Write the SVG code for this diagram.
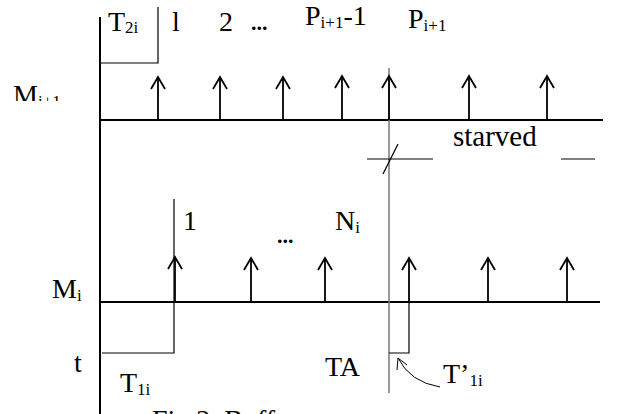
<svg xmlns="http://www.w3.org/2000/svg" width="617" height="414" viewBox="0 0 617 414">
<style>
text{font-family:"Liberation Serif","Times New Roman",serif;font-size:28px;fill:#000}
.sub{font-size:17px}
.ax{stroke:#000;stroke-width:2;fill:none}
.thin{stroke:#000;stroke-width:1.2;fill:none}
.gray{stroke:#777;stroke-width:1.5;fill:none}
.arr{stroke:#000;stroke-width:1.8;fill:none;marker-end:url(#v)}
</style>
<defs>
<marker id="v" markerUnits="userSpaceOnUse" viewBox="-14 -9 16 18" markerWidth="16" markerHeight="18" refX="0" refY="0" orient="auto" overflow="visible">
<path d="M -12 -7 L 0 0 L -12 7" stroke="#000" stroke-width="1.8" fill="none"/>
</marker>
<clipPath id="cm"><rect x="0" y="0" width="90" height="101"/></clipPath>
</defs>
<rect width="617" height="414" fill="#fff"/>
<g id="axes">
<line class="ax" x1="100" y1="17" x2="100" y2="414"/>
<line class="ax" x1="100" y1="120" x2="603" y2="120"/>
<line class="ax" x1="100" y1="302" x2="600" y2="302"/>
<line class="gray" x1="389" y1="68" x2="389" y2="393"/>
</g>
<g id="boxes">
<polyline class="thin" points="100,63 158,63 158,7"/>
<polyline class="thin" points="102,353 174,353 174,199"/>
<polyline class="thin" points="389,353 409,353 409,302"/>
<line class="thin" x1="367" y1="159" x2="433" y2="159"/>
<line class="thin" x1="561" y1="159" x2="595" y2="159"/>
<line class="thin" x1="383" y1="174" x2="398" y2="144"/>
</g>
<g id="connectors">
<line class="arr" x1="158" y1="120" x2="158" y2="77"/>
<line class="arr" x1="220" y1="120" x2="220" y2="77"/>
<line class="arr" x1="283" y1="120" x2="283" y2="77"/>
<line class="arr" x1="342" y1="120" x2="342" y2="76"/>
<line class="arr" x1="389" y1="120" x2="389" y2="76"/>
<line class="arr" x1="469" y1="120" x2="469" y2="76"/>
<line class="arr" x1="547" y1="120" x2="547" y2="76"/>
<line class="arr" x1="175" y1="302" x2="175" y2="257"/>
<line class="arr" x1="251" y1="302" x2="251" y2="258"/>
<line class="arr" x1="325" y1="302" x2="325" y2="258"/>
<line class="arr" x1="409" y1="302" x2="409" y2="258"/>
<line class="arr" x1="488" y1="302" x2="488" y2="258"/>
<line class="arr" x1="567" y1="302" x2="567" y2="258"/>
<path d="M 440 387 Q 410 382 398 358" stroke="#000" stroke-width="1" fill="none"/>
<path d="M 397 370 L 398 358 L 407 365" stroke="#000" stroke-width="1" fill="none"/>
</g>
<g id="labels">
<text x="108" y="31">T<tspan class="sub" dy="2">2i</tspan></text>
<text x="172" y="31">l</text>
<text x="219" y="31">2</text>
<text x="251" y="30" style="font-size:22px;font-weight:bold">...</text>
<text x="305" y="25">P<tspan class="sub" dy="3">i+1</tspan><tspan dy="-3">-1</tspan></text>
<text x="408" y="28">P<tspan class="sub" dy="3">i+1</tspan></text>
<text x="13" y="104" clip-path="url(#cm)">M<tspan class="sub" dy="3">i+1</tspan></text>
<text x="453" y="146" style="font-size:29px">starved</text>
<text x="183" y="230">1</text>
<text x="277" y="243" style="font-size:22px;font-weight:bold">...</text>
<text x="335" y="230">N<tspan class="sub" dy="3">i</tspan></text>
<text x="52" y="298">M<tspan class="sub" dy="3">i</tspan></text>
<text x="74" y="372">t</text>
<text x="120" y="392">T<tspan class="sub" dy="3">1i</tspan></text>
<text x="325" y="376">TA</text>
<text x="443" y="383">T’<tspan class="sub" dy="3">1i</tspan></text>
<text x="152" y="429">Fig.2. Buffer</text>
</g>
</svg>
